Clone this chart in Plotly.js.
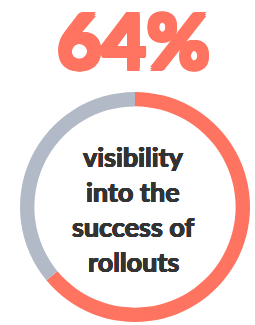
<!DOCTYPE html>
<html>
<head>
<meta charset="utf-8">
<script src="https://cdn.plot.ly/plotly-3.0.1.min.js"></script>
<style>html,body{margin:0;padding:0;background:#fff;}#chart{width:255px;height:325px;}</style>
</head>
<body>
<div id="chart"></div>
<script>
const sliceLabels = ['visibility into the success of rollouts', 'other'];
const sliceValues = [64, 36];
const sliceColors = ['#FF7461', '#B2BAC8'];
const headline = '64%';
const centerLines = ['visibility', 'into the', 'success of', 'rollouts'];

const W = 255, H = 325;
const cx = 135, cy = 207, R = 115;

const data = [{
  type: 'pie',
  labels: sliceLabels,
  values: sliceValues,
  marker: {colors: sliceColors, line: {width: 0}},
  hole: 0.875,
  sort: false,
  direction: 'clockwise',
  rotation: 0,
  textinfo: 'none',
  hoverinfo: 'none',
  showlegend: false,
  domain: {x: [(cx - R) / W, (cx + R) / W], y: [(H - cy - R) / H, (H - cy + R) / H]}
}];

function thick(c, d) {
  return [d + 'px 0 0 ' + c, '-' + d + 'px 0 0 ' + c, '0 ' + d + 'px 0 ' + c, '0 -' + d + 'px 0 ' + c,
          d + 'px ' + d + 'px 0 ' + c, '-' + d + 'px -' + d + 'px 0 ' + c,
          d + 'px -' + d + 'px 0 ' + c, '-' + d + 'px ' + d + 'px 0 ' + c].join(', ');
}

const baselines = [166, 201, 236, 271];
const annotations = centerLines.map((t, i) => ({
  text: t, xref: 'paper', yref: 'paper', x: 133 / W, y: 1 - (baselines[i] - 10) / H,
  xanchor: 'center', yanchor: 'middle', showarrow: false,
  font: {family: 'Lato', size: 27, color: '#333333', weight: 700, shadow: thick('#333333', 0.3)}
}));
annotations.push({
  text: headline, xref: 'paper', yref: 'paper', x: 133 / W, y: 1 - 39 / H,
  xanchor: 'center', yanchor: 'middle', showarrow: false,
  font: {family: 'Lato', size: 77, color: '#FF7461', weight: 900, shadow: thick('#FF7461', 1.6)}
});

const layout = {
  width: W, height: H,
  margin: {l: 0, r: 0, t: 0, b: 0},
  paper_bgcolor: '#ffffff',
  plot_bgcolor: '#ffffff',
  annotations: annotations
};

Plotly.newPlot('chart', data, layout, {displayModeBar: false, staticPlot: true});
</script>
</body>
</html>
